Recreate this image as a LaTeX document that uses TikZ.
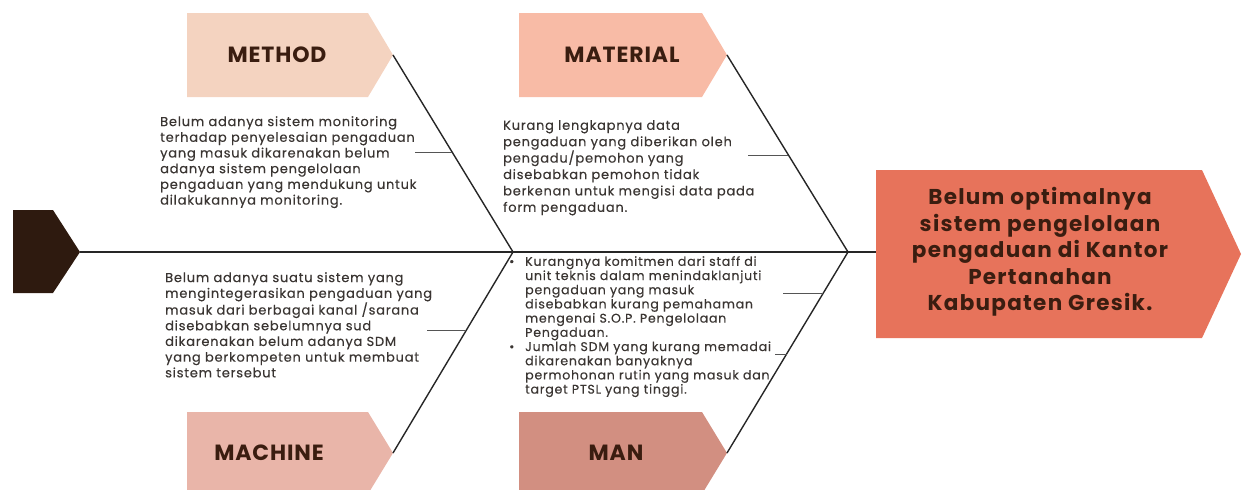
\documentclass[tikz,border=0pt]{standalone}
\usepackage{fontspec}
\setmainfont{Poppins}
\newfontfamily\bodyfont{Poppins}[LetterSpace=6, FakeBold=0.35]
\newfontfamily\titlefont{Poppins}[LetterSpace=4]
\newfontfamily\headfont{Poppins}[LetterSpace=6]
\usetikzlibrary{calc}
\definecolor{cMethod}{HTML}{F4D3C0}
\definecolor{cMaterial}{HTML}{F8BBA6}
\definecolor{cMachine}{HTML}{E9B5A9}
\definecolor{cMan}{HTML}{D28F81}
\definecolor{cHead}{HTML}{E7735B}
\definecolor{cTail}{HTML}{2E1A0F}
\definecolor{cTitle}{HTML}{3A1D10}
\definecolor{cBody}{HTML}{3A3532}
\definecolor{cTick}{HTML}{555555}
\tikzset{
  bone/.style={line width=1.4pt, draw=black!85},
  tick/.style={line width=0.8pt, draw=cTick},
  title/.style={font=\titlefont\fontsize{22}{26}\selectfont\bfseries, text=cTitle, inner sep=0pt},
  body/.style={font=\bodyfont\fontsize{13}{15.7}\selectfont, text=cBody, align=left, inner sep=0pt, anchor=north west},
}
\begin{document}
\begin{tikzpicture}[x=1pt,y=-1pt]
\useasboundingbox (0,0) rectangle (1243,490);
\clip (0,0) rectangle (1243,490);
% category boxes
\fill[cMethod] (187,13) -- (368,13) -- (393,55) -- (368,97) -- (187,97) -- cycle;
\fill[cMaterial] (519,13) -- (702,13) -- (727,55) -- (702,97) -- (519,97) -- cycle;
\fill[cMachine] (187,412) -- (368,412) -- (393,453) -- (368,494) -- (187,494) -- cycle;
\fill[cMan] (519,412) -- (702,412) -- (727,453) -- (702,494) -- (519,494) -- cycle;
% head and tail
\fill[cHead] (876,170) -- (1202,170) -- (1241,254) -- (1202,338) -- (876,338) -- cycle;
\fill[cTail] (13,210) -- (53,210) -- (80,252) -- (53,293) -- (13,293) -- cycle;
% named points
\coordinate (tailtip) at (80,252);
\coordinate (headleft) at (876,252);
\coordinate (j1) at (513,252);
\coordinate (j2) at (848,252);
\coordinate (methodtip) at (393,55);
\coordinate (materialtip) at (727,55);
\coordinate (machinetip) at (393,453);
\coordinate (mantip) at (727,453);
% bones
\draw[bone] (tailtip) -- (headleft);
\draw[bone] (methodtip) -- (j1);
\draw[bone] (materialtip) -- (j2);
\draw[bone] (machinetip) -- (j1);
\draw[bone] (mantip) -- (j2);
% ticks
\coordinate (t1) at ($(methodtip)!0.4924!(j1)$);
\coordinate (t2) at ($(materialtip)!0.5076!(j2)$);
\coordinate (t3) at ($(machinetip)!0.6119!(j1)$);
\coordinate (t4) at ($(mantip)!0.796!(j2)$);
\coordinate (t5) at ($(mantip)!0.4925!(j2)$);
\draw[tick] (t1) -- ++(-37,0);
\draw[tick] (t2) -- ++(-40,0);
\draw[tick] (t3) -- ++(-39,0);
\draw[tick] (t4) -- ++(-40,0);
\draw[tick] (t5) -- ++(-12,0);
% titles
\node[title] (method) at (277,55) {METHOD};
\node[title] (material) at (622,55) {MATERIAL};
\node[title] (machine) at (269,453) {MACHINE};
\node[title] (man) at (616,453) {MAN};
\node[font=\headfont\fontsize{21.5}{26.5}\selectfont\bfseries, text=cTitle, align=center, inner sep=0pt] (head) at (1040,252)
  {Belum optimalnya\\sistem pengelolaan\\pengaduan di Kantor\\Pertanahan\\Kabupaten Gresik.};
% cause texts
\node[body] (methodtxt) at (160,116) {Belum adanya sistem monitoring\\terhadap penyelesaian pengaduan\\yang masuk dikarenakan belum\\adanya sistem pengelolaan\\pengaduan yang mendukung untuk\\dilakukannya monitoring.};
\node[body, font=\bodyfont\fontsize{13}{16.4}\selectfont] (materialtxt) at (503,120) {Kurang lengkapnya data\\pengaduan yang diberikan oleh\\pengadu/pemohon yang\\disebabkan pemohon tidak\\berkenan untuk mengisi data pada\\form pengaduan.};
\node[body] (machinetxt) at (165,272) {Belum adanya suatu sistem yang\\mengintegerasikan pengaduan yang\\masuk dari berbagai kanal /sarana\\disebabkan sebelumnya sud\\dikarenakan belum adanya SDM\\yang berkompeten untuk membuat\\sistem tersebut};
\node[body, font=\bodyfont\fontsize{12.6}{14.2}\selectfont] (mantxt) at (509,256) {%
\makebox[16pt][l]{\textbullet}Kurangnya komitmen dari staff di\\
\hspace*{16pt}unit teknis dalam menindaklanjuti\\
\hspace*{16pt}pengaduan yang masuk\\
\hspace*{16pt}disebabkan kurang pemahaman\\
\hspace*{16pt}mengenai S.O.P. Pengelolaan\\
\hspace*{16pt}Pengaduan.\\
\makebox[16pt][l]{\textbullet}Jumlah SDM yang kurang memadai\\
\hspace*{16pt}dikarenakan banyaknya\\
\hspace*{16pt}permohonan rutin yang masuk dan\\
\hspace*{16pt}target PTSL yang tinggi.};
\end{tikzpicture}
\end{document}
